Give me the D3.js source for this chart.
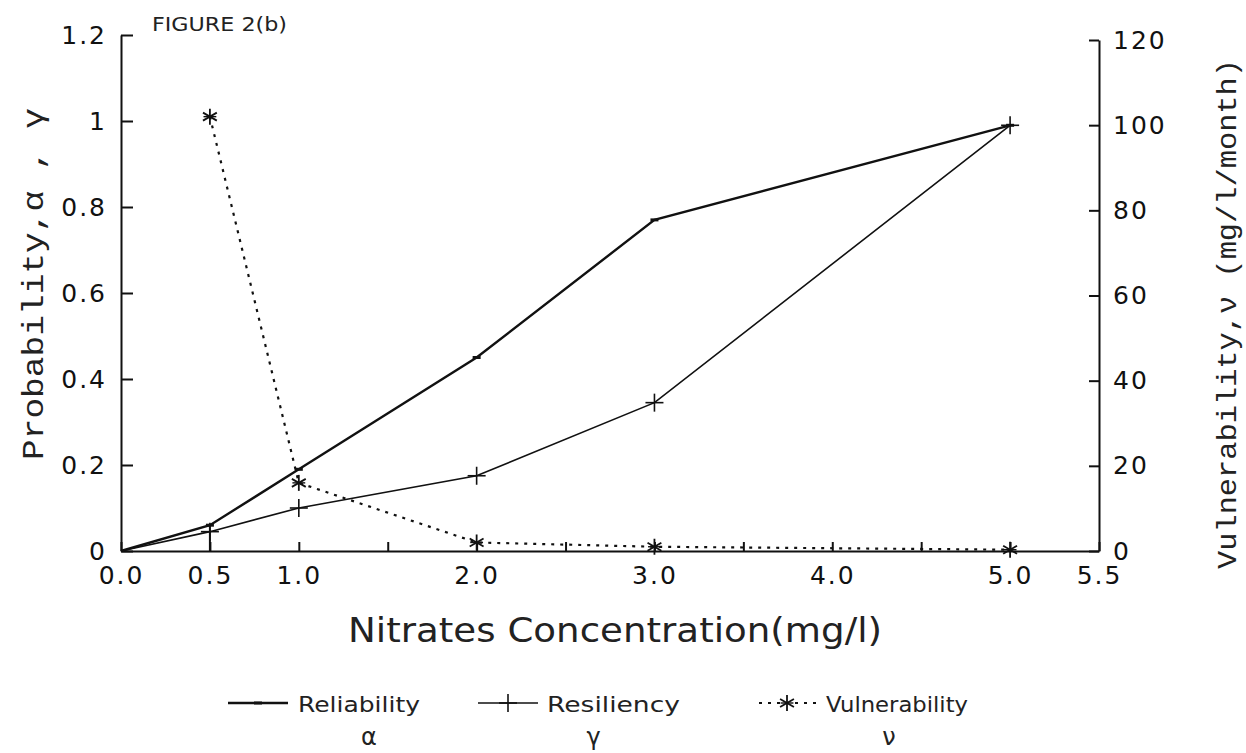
<!DOCTYPE html>
<html>
<head>
<meta charset="utf-8">
<script src="https://cdn.jsdelivr.net/npm/d3@7"></script>
<style>
  body { margin: 0; background: #fff; }
  svg { display: block; }
  .axis path, .axis line { stroke: #111; stroke-width: 2; }
</style>
</head>
<body>
<main></main>
<script>
// chart values
const concentration = [0, 0.5, 1.0, 2.0, 3.0, 5.0];
const reliability = [0, 0.06, 0.19, 0.45, 0.77, 0.99];
const resiliency = [0, 0.045, 0.10, 0.175, 0.345, 0.99];
const vulnConc = [0.5, 1.0, 2.0, 3.0, 5.0];
const vulnerability = [102, 16, 2, 1, 0.3];

const xTicks = [0, 0.5, 1, 1.5, 2, 2.5, 3, 3.5, 4, 4.5, 5, 5.5];
const xLabelled = [0, 0.5, 1, 2, 3, 4, 5, 5.5];
const leftTicks = [0, 0.2, 0.4, 0.6, 0.8, 1, 1.2];
const rightTicks = [0, 20, 40, 60, 80, 100, 120];

const w = 1246;
const h = 753;

const svg = d3.select('main').append('svg').attr('width', w).attr('height', h);

const x = d3.scaleLinear().domain([0, 5.5]).range([121, 1099]);
const yL = d3.scaleLinear().domain([0, 1.2]).range([551, 35]);
const yR = d3.scaleLinear().domain([0, 120]).range([551, 40]);

// axes, ticks point inward
svg
  .append('g')
  .attr('class', 'axis')
  .attr('transform', `translate(0,${yL(0)})`)
  .call(
    d3
      .axisBottom(x)
      .tickValues(xTicks)
      .tickSizeInner(-9)
      .tickSizeOuter(0)
      .tickPadding(15)
      .tickFormat((d) => (xLabelled.includes(d) ? d3.format('.1f')(d) : ''))
  );

svg
  .append('g')
  .attr('class', 'axis')
  .attr('transform', `translate(${x(0)},0)`)
  .call(
    d3
      .axisLeft(yL)
      .tickValues(leftTicks)
      .tickSizeInner(-12)
      .tickSizeOuter(0)
      .tickPadding(14)
      .tickFormat((d) => (d === 0 || d === 1 ? d : d3.format('.1f')(d)))
  );

svg
  .append('g')
  .attr('class', 'axis')
  .attr('transform', `translate(${x(5.5)},0)`)
  .call(d3.axisRight(yR).tickValues(rightTicks).tickSizeInner(-10).tickSizeOuter(0).tickPadding(14));

svg
  .selectAll('.axis')
  .attr('font-size', null)
  .attr('font-family', null)
  .selectAll('.tick text')
  .style('font-family', '"DejaVu Sans", sans-serif')
  .style('font-size', '25px')
  .style('letter-spacing', '2px')
  .style('fill', '#111');

// drop line at 0.5 seen on the figure
svg
  .append('line')
  .attr('x1', x(0.5))
  .attr('x2', x(0.5))
  .attr('y1', yL(0))
  .attr('y2', yL(reliability[1]))
  .attr('stroke', '#111')
  .attr('stroke-width', 2);

const relData = concentration.map((c, i) => [c, reliability[i]]);
const resData = concentration.map((c, i) => [c, resiliency[i]]);
const vulData = vulnConc.map((c, i) => [c, vulnerability[i]]);

const lineL = d3
  .line()
  .x((d) => x(d[0]))
  .y((d) => yL(d[1]));
const lineR = d3
  .line()
  .x((d) => x(d[0]))
  .y((d) => yR(d[1]));

svg.append('path').attr('d', lineL(relData)).attr('fill', 'none').attr('stroke', '#111').attr('stroke-width', 2.4);
svg.append('path').attr('d', lineL(resData)).attr('fill', 'none').attr('stroke', '#111').attr('stroke-width', 1.6);
svg
  .append('path')
  .attr('d', lineR(vulData))
  .attr('fill', 'none')
  .attr('stroke', '#111')
  .attr('stroke-width', 2.2)
  .attr('stroke-dasharray', '3,6');

// marker helpers
function dash(g, cx, cy) {
  g.append('line').attr('x1', cx - 4).attr('x2', cx + 4).attr('y1', cy).attr('y2', cy)
    .attr('stroke', '#111').attr('stroke-width', 3);
}
function plus(g, cx, cy, s) {
  g.append('line').attr('x1', cx - s).attr('x2', cx + s).attr('y1', cy).attr('y2', cy)
    .attr('stroke', '#111').attr('stroke-width', 1.6);
  g.append('line').attr('x1', cx).attr('x2', cx).attr('y1', cy - s).attr('y2', cy + s)
    .attr('stroke', '#111').attr('stroke-width', 1.6);
}
function star(g, cx, cy, s) {
  [0, 60, 120].forEach((a) => {
    const r = (a * Math.PI) / 180;
    g.append('line')
      .attr('x1', cx - s * Math.sin(r)).attr('x2', cx + s * Math.sin(r))
      .attr('y1', cy - s * Math.cos(r)).attr('y2', cy + s * Math.cos(r))
      .attr('stroke', '#111').attr('stroke-width', 1.8);
  });
  g.append('line').attr('x1', cx - s * 0.8).attr('x2', cx + s * 0.8).attr('y1', cy).attr('y2', cy)
    .attr('stroke', '#111').attr('stroke-width', 1.4);
}

const marks = svg.append('g');
relData.slice(1).forEach((d) => dash(marks, x(d[0]), yL(d[1])));
resData.slice(1).forEach((d) => plus(marks, x(d[0]), yL(d[1]), 9));
vulData.forEach((d) => star(marks, x(d[0]), yR(d[1]), 8));

// titles
svg
  .append('text')
  .attr('x', 152)
  .attr('y', 31)
  .attr('textLength', 135)
  .attr('lengthAdjust', 'spacingAndGlyphs')
  .style('font-family', '"DejaVu Sans", sans-serif')
  .style('font-size', '20px')
  .style('fill', '#222')
  .text('FIGURE 2(b)');

svg
  .append('text')
  .attr('transform', 'translate(43,284) rotate(-90)')
  .attr('text-anchor', 'middle')
  .attr('textLength', 352)
  .attr('lengthAdjust', 'spacingAndGlyphs')
  .style('font-family', '"Liberation Mono", "DejaVu Sans Mono", monospace')
  .style('font-size', '30px')
  .style('fill', '#222')
  .text('Probability,α , γ');

svg
  .append('text')
  .attr('transform', 'translate(1236,314) rotate(-90)')
  .attr('text-anchor', 'middle')
  .attr('textLength', 510)
  .attr('lengthAdjust', 'spacingAndGlyphs')
  .style('font-family', '"Liberation Mono", "DejaVu Sans Mono", monospace')
  .style('font-size', '28px')
  .style('fill', '#222')
  .text('Vulnerability,ν  (mg/l/month)');

svg
  .append('text')
  .attr('x', 615)
  .attr('y', 642)
  .attr('text-anchor', 'middle')
  .attr('textLength', 534)
  .attr('lengthAdjust', 'spacingAndGlyphs')
  .style('font-family', '"DejaVu Sans", sans-serif')
  .style('font-size', '34px')
  .style('fill', '#222')
  .text('Nitrates Concentration(mg/l)');

// legend
const legendNames = ['Reliability', 'Resiliency', 'Vulnerability'];
const legendSymbols = ['α', 'γ', 'ν'];
const legendLineX = [228, 478, 757];
const legendTextX = [298, 547, 826];
const legendTextW = [122, 133, 142];
const ly = 703;
const leg = svg.append('g');

legendNames.forEach((name, i) => {
  const x0 = legendLineX[i];
  const seg = leg
    .append('line')
    .attr('x1', x0)
    .attr('x2', x0 + 60)
    .attr('y1', ly)
    .attr('y2', ly)
    .attr('stroke', '#111')
    .attr('stroke-width', i === 0 ? 2.4 : i === 1 ? 1.6 : 2.2);
  if (i === 2) seg.attr('stroke-dasharray', '3,6').attr('x1', x0 + 2);
  if (i === 0) dash(leg, x0 + 30, ly);
  if (i === 1) plus(leg, x0 + 30, ly, 9);
  if (i === 2) star(leg, x0 + 30, ly, 8);

  leg
    .append('text')
    .attr('x', legendTextX[i])
    .attr('y', ly + 9)
    .attr('textLength', legendTextW[i])
    .attr('lengthAdjust', 'spacingAndGlyphs')
    .style('font-family', '"DejaVu Sans", sans-serif')
    .style('font-size', '22px')
    .style('fill', '#222')
    .text(name);

  leg
    .append('text')
    .attr('x', legendTextX[i] + legendTextW[i] / 2 + (i === 0 ? 10 : i === 1 ? -20 : -8))
    .attr('y', ly + 42)
    .attr('text-anchor', 'middle')
    .style('font-family', '"DejaVu Sans", sans-serif')
    .style('font-size', '24px')
    .style('fill', '#222')
    .text(legendSymbols[i]);
});
</script>
</body>
</html>
